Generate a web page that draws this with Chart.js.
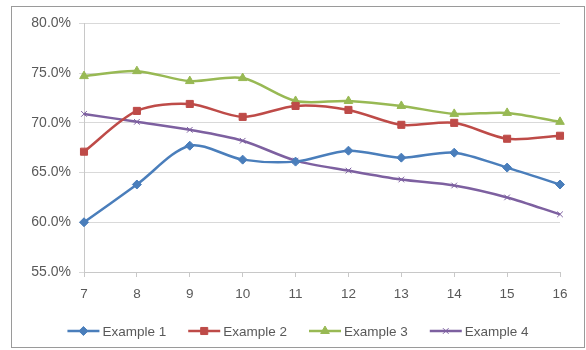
<!DOCTYPE html>
<html>
<head>
<meta charset="utf-8">
<script src="https://cdn.jsdelivr.net/npm/chart.js@4/dist/chart.umd.min.js"></script>
<style>
  body { margin: 0; background: #fff; }
  #box { position: absolute; left: 11px; top: 6px; width: 572px; height: 340px; border: 1px solid #9a9a9a; }
  canvas { display: block; }
</style>
</head>
<body>
<div id="box"><canvas id="chart" width="572" height="340"></canvas></div>
<script>
// x categories
let xLabels = ['7', '8', '9', '10', '11', '12', '13', '14', '15', '16'];
// values in percent
let example1 = [60.0, 63.8, 67.7, 66.3, 66.1, 67.2, 66.5, 67.0, 65.5, 63.8];
let example2 = [67.1, 71.2, 71.9, 70.6, 71.7, 71.3, 69.8, 70.0, 68.4, 68.7];
let example3 = [74.7, 75.2, 74.2, 74.5, 72.2, 72.2, 71.7, 70.9, 71.0, 70.1];
let example4 = [70.9, 70.1, 69.3, 68.2, 66.2, 65.2, 64.3, 63.7, 62.5, 60.8];
let seriesNames = ['Example 1', 'Example 2', 'Example 3', 'Example 4'];
let colors = ['#4a7ebb', '#be4b48', '#98b954', '#7d60a0'];
let markers = ['rectRot', 'rect', 'triangle', 'crossRot'];
let markerSizes = [4.5, 5, 5, 4];

let fontFamily = '"Liberation Sans", Arial, sans-serif';
let textColor = '#595959';

function makeDataset(label, values, index) {
    return {
        label: label,
        data: values,
        borderColor: colors[index],
        backgroundColor: colors[index],
        borderWidth: 2.5,
        pointStyle: markers[index],
        pointRadius: markerSizes[index],
        pointBorderWidth: 1,
        pointBackgroundColor: colors[index],
        pointBorderColor: colors[index],
        tension: 0.3,
        fill: false
    };
}

// legend drawn as line + marker + text, like excel
let lineLegend = {
    id: 'lineLegend',
    afterDraw: function(chart) {
        let ctx = chart.ctx;
        ctx.save();
        ctx.font = '13.5px ' + fontFamily;
        let lineLen = 32, gap = 3, spacing = 22;
        let widths = seriesNames.map(function(n) { return lineLen + gap + ctx.measureText(n).width; });
        let total = widths.reduce(function(a, b) { return a + b; }, 0) + spacing * (widths.length - 1);
        let x = (chart.width - total) / 2;
        let y = 324;
        chart.data.datasets.forEach(function(ds, i) {
            ctx.strokeStyle = ds.borderColor;
            ctx.fillStyle = ds.borderColor;
            ctx.lineWidth = 2.5;
            ctx.beginPath();
            ctx.moveTo(x, y);
            ctx.lineTo(x + lineLen, y);
            ctx.stroke();
            ctx.lineWidth = 1;
            Chart.helpers.drawPoint(ctx, {
                pointStyle: ds.pointStyle,
                radius: ds.pointRadius,
                borderWidth: 1,
                rotation: 0
            }, x + lineLen / 2, y);
            ctx.fillStyle = textColor;
            ctx.textBaseline = 'middle';
            ctx.textAlign = 'left';
            ctx.fillText(ds.label, x + lineLen + gap, y + 1);
            x += widths[i] + spacing;
        });
        ctx.restore();
    }
};

let datasets = [
    makeDataset(seriesNames[0], example1, 0),
    makeDataset(seriesNames[1], example2, 1),
    makeDataset(seriesNames[2], example3, 2),
    makeDataset(seriesNames[3], example4, 3)
];

let config = {
    type: 'line',
    data: { labels: xLabels, datasets: datasets },
    plugins: [lineLegend],
    options: {
        responsive: false,
        animation: false,
        layout: { padding: { left: 0, right: 24, top: 15, bottom: 45 } },
        plugins: {
            legend: { display: false },
            tooltip: { enabled: false }
        },
        scales: {
            x: {
                offset: false,
                grid: { drawOnChartArea: false, drawTicks: true, tickLength: 5, color: '#c8c8c8' },
                border: { color: '#c8c8c8', width: 1 },
                ticks: { color: textColor, font: { family: fontFamily, size: 13.5 }, padding: 9, maxRotation: 0 },
                afterFit: function(scale) { scale.height = 30; }
            },
            y: {
                min: 55,
                max: 80,
                grid: { color: '#d9d9d9', tickLength: 5, drawTicks: true },
                border: { color: '#c8c8c8', width: 1 },
                ticks: {
                    stepSize: 5,
                    color: textColor,
                    font: { family: fontFamily, size: 14 },
                    padding: 8,
                    callback: function(value) { return value.toFixed(1) + '%'; }
                },
                afterFit: function(scale) { scale.width = 72; }
            }
        }
    }
};

let chart = new Chart(document.getElementById('chart'), config);
</script>
</body>
</html>
